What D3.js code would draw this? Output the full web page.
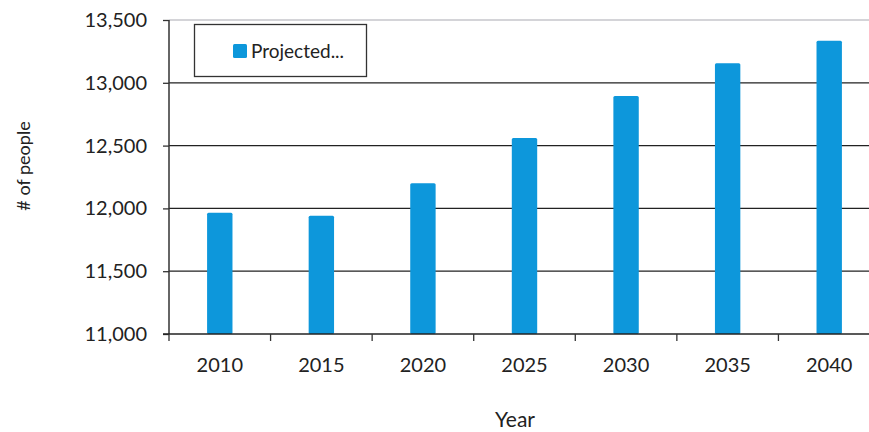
<!DOCTYPE html>
<html><head><meta charset="utf-8">
<script src="https://cdn.jsdelivr.net/npm/d3@7"></script>
<style>body{margin:0;background:#fff}svg{display:block}text{font-family:Lato,"Open Sans",sans-serif;fill:#222}</style>
</head><body><svg id="c" width="869" height="432"></svg>
<script>
const categories = ["2010","2015","2020","2025","2030","2035","2040"];
const values = [11966, 11942, 12200, 12560, 12895, 13155, 13335];
const yTicks = [11000, 11500, 12000, 12500, 13000, 13500];
const seriesName = "Projected...";

const svg = d3.select("#c");
const m = {left:169, right:880, top:20, bottom:334};
const x = d3.scaleBand().domain(categories).range([m.left, m.right]).paddingInner(0.75).paddingOuter(0.375);
const xb = d3.scaleBand().domain(categories).range([m.left, m.right]);
const y = d3.scaleLinear().domain([11000, 13500]).range([m.bottom, m.top]);
const color = "#0d97db";

// gridlines
svg.append("g").selectAll("line").data(yTicks.slice(1)).join("line")
  .attr("x1", m.left).attr("x2", 869)
  .attr("y1", d=>y(d)).attr("y2", d=>y(d))
  .attr("stroke", d=> d===13500 ? "#d4d4d8" : "#222").attr("stroke-width", d=> d===13500?2:1.3);

// bars
svg.append("g").selectAll("rect").data(values).join("rect")
  .attr("x", (d,i)=>x(categories[i])).attr("width", x.bandwidth())
  .attr("y", d=>y(d)).attr("height", d=>y(11000)-y(d))
  .attr("rx", 1.5)
  .attr("fill", color);

// y axis
const ya = svg.append("g").attr("transform",`translate(${m.left},0)`)
  .call(d3.axisLeft(y).tickValues(yTicks).tickFormat(d3.format(",")).tickSize(6).tickPadding(16));
ya.select(".domain").attr("stroke","#333").attr("stroke-width",1.5).attr("d",`M-0,${m.top}V${m.bottom}`);
ya.selectAll(".tick line").attr("stroke","#333").attr("stroke-width",1.3);
ya.selectAll(".tick text").attr("font-size",20).attr("fill","#222").attr("font-family","Lato,sans-serif");

// x axis
const xa = svg.append("g").attr("transform",`translate(0,${m.bottom})`)
  .call(d3.axisBottom(xb).tickSize(0).tickPadding(24));
xa.select(".domain").attr("stroke","#222").attr("stroke-width",1.6).attr("d",`M${m.left-6},0H869`);
xa.selectAll(".tick text").attr("font-size",20).attr("fill","#222").attr("font-family","Lato,sans-serif");
svg.append("g").selectAll("line").data(categories).join("line")
  .attr("x1", d=>xb(d)).attr("x2", d=>xb(d))
  .attr("y1", m.bottom).attr("y2", m.bottom+7).attr("stroke","#333").attr("stroke-width",1.3);

// axis titles
svg.append("text").attr("transform","translate(30,166) rotate(-90)").attr("text-anchor","middle")
  .attr("font-size",18).text("# of people");
svg.append("text").attr("x",515).attr("y",427).attr("text-anchor","middle").attr("font-size",21).text("Year");

// legend
const lg = svg.append("g");
lg.append("rect").attr("x",194.5).attr("y",24.5).attr("width",172).attr("height",52)
  .attr("fill","#fff").attr("stroke","#333").attr("stroke-width",1.3);
lg.append("rect").attr("x",233).attr("y",44).attr("width",14).attr("height",14).attr("rx",1.5).attr("fill",color);
lg.append("text").attr("x",251).attr("y",58).attr("font-size",19).text(seriesName);
</script></body></html>
